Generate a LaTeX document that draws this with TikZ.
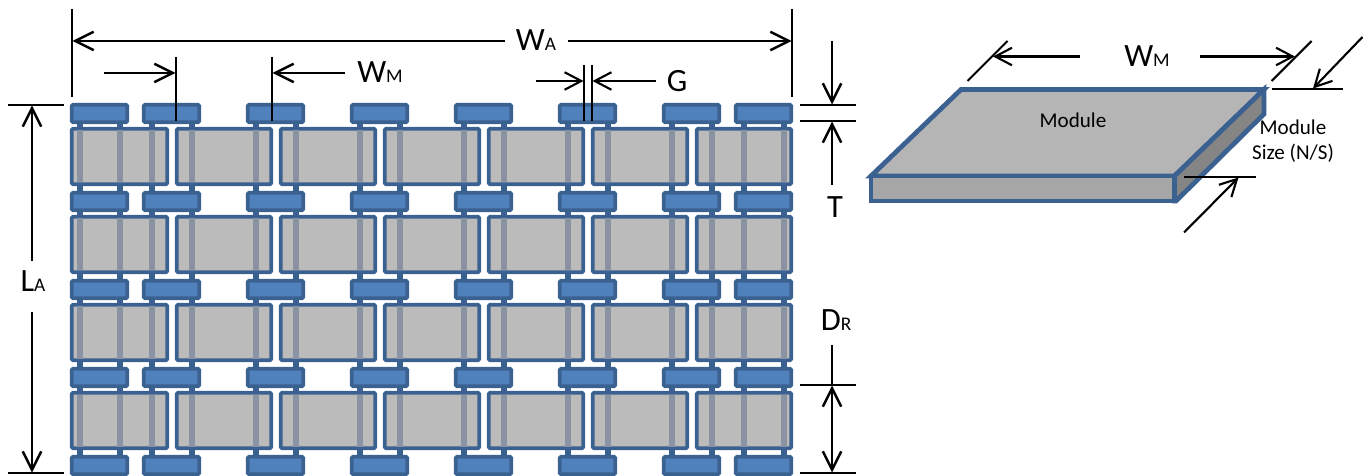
\documentclass[tikz,border=0pt]{standalone}
\usepackage{fontspec}
\setmainfont{Carlito}
\usetikzlibrary{arrows.meta}

\definecolor{padfill}{HTML}{4F81BD}
\definecolor{padline}{HTML}{3B6190}
\definecolor{modfill}{HTML}{BBBBBB}
\definecolor{ribgray}{HTML}{8B93A3}

\newcommand{\bigsmall}[2]{{\fontsize{18.5}{20}\selectfont #1\fontsize{11}{20}\selectfont #2}}

\tikzset{
  padbox/.style={draw=padline, fill=padfill, line width=2.1pt, rounded corners=0.8pt},
  modbox/.style={draw=padline, fill=modfill, line width=2.1pt, rounded corners=0.8pt},
  slab/.style={draw=padline, line width=2.7pt, line join=miter},
  rib/.style={line width=3.5pt},
  dim/.style={line width=1.4pt, black},
  dimarrow/.style={dim, -{Straight Barb[length=10.5pt, width=10.5pt, line width=1.4pt]}},
  thindim/.style={line width=1.2pt, black},
  thinarrow/.style={thindim, -{Straight Barb[length=9.5pt, width=10pt, line width=1.2pt]}},
  dimlabel/.style={inner sep=0pt, text=black},
  boxlabel/.style={inner sep=0pt, text=black, font=\fontsize{12}{14.2}\selectfont, align=center}
}

\begin{document}
\begin{tikzpicture}[x=0.02cm, y=-0.02cm]
       \useasboundingbox (0, 0) rectangle (1363, 476);

      % ribs between the pad rows
       \foreach \padx in {70, 142, 246, 350, 454, 558, 662, 734} {
         \draw [rib, padline] (\padx + 10, 110) -- (\padx + 10, 470);
         \draw [rib, padline] (\padx + 50, 110) -- (\padx + 50, 470);
       }

      % pads
       \foreach \rowy in {103, 191, 279, 367, 455} {
         \foreach \padx in {70, 142, 246, 350, 454, 558, 662, 734} {
           \draw [padbox] (\padx + 1.7, \rowy + 1.7) rectangle (\padx + 57.3, \rowy + 19.3);
         }
       }

      % modules, with the ribs showing through
       \foreach \rowy in {127, 215, 303, 391} {
         \foreach \modx/\modw in {70/99, 175/98, 279/98, 383/98, 487/98, 591/98, 695/98} {
           \draw [modbox] (\modx + 1.7, \rowy + 1.7) rectangle (\modx + \modw - 1.7, \rowy + 57.3);
         }
         \foreach \padx in {70, 142, 246, 350, 454, 558, 662, 734} {
           \draw [rib, ribgray] (\padx + 10, \rowy + 3.5) -- (\padx + 10, \rowy + 55.5);
           \draw [rib, ribgray] (\padx + 50, \rowy + 3.5) -- (\padx + 50, \rowy + 55.5);
         }
       }

      % array width
       \draw [dim] (72, 9) -- (72, 97);
       \draw [dim] (792, 9) -- (792, 97);
       \draw [dimarrow] (505, 41) -- (72.5, 41);
       \draw [dimarrow] (568, 41) -- (791.5, 41);
       \node[dimlabel] (arraywidth) at (536, 40) {\bigsmall{W}{A}};

      % module width
       \draw [dim] (176, 57) -- (176, 121);
       \draw [dim] (272, 57) -- (272, 121);
       \draw [dimarrow] (104, 73) -- (175.5, 73);
       \draw [dimarrow] (345, 73) -- (272.5, 73);
       \node[dimlabel] (modwidth) at (380, 72) {\bigsmall{W}{M}};

      % gap
       \draw [thindim] (584, 65) -- (584, 121);
       \draw [thindim] (592, 65) -- (592, 121);
       \draw [thinarrow] (536, 81) -- (583.5, 81);
       \draw [thinarrow] (656, 81) -- (592.5, 81);
       \node[dimlabel] (gap) at (677, 81) {\bigsmall{G}{}};

      % thickness
       \draw [dim] (800, 105) -- (856, 105);
       \draw [dim] (800, 121) -- (856, 121);
       \draw [dimarrow] (832, 41) -- (832, 104.5);
       \draw [dimarrow] (832, 185) -- (832, 121.5);
       \node[dimlabel] (thick) at (835, 207) {\bigsmall{T}{}};

      % array length
       \draw [dim] (8, 105) -- (64, 105);
       \draw [dim] (8, 473) -- (64, 473);
       \draw [dimarrow] (32, 261) -- (32, 105.5);
       \draw [dimarrow] (32, 312) -- (32, 472.5);
       \node[dimlabel] (arraylength) at (33, 281) {\bigsmall{L}{A}};

      % row distance
       \draw [dim] (800, 385) -- (856, 385);
       \draw [dim] (800, 473) -- (856, 473);
       \draw [dim] (832, 345) -- (832, 385);
       \draw [dim, {Straight Barb[length=10.5pt, width=10.5pt, line width=1.4pt]}-{Straight Barb[length=10.5pt, width=10.5pt, line width=1.4pt]}] (832, 385.5) -- (832, 472.5);
       \node[dimlabel] (rowdist) at (836, 320) {\bigsmall{D}{R}};

      % single module
       \draw [slab, fill=black!29] (961, 89.5) -- (1264, 89.5) -- (1174.5, 176) -- (871, 176) -- cycle;
       \draw [slab, fill=black!35] (871, 176) -- (1174.5, 176) -- (1174.5, 201) -- (871, 201) -- cycle;
       \draw [slab, fill=black!48] (1264, 89.5) -- (1264, 114) -- (1176, 201) -- (1174.5, 201) -- (1174.5, 176) -- cycle;
       \node[boxlabel] (modtop) at (1073, 120) {Module};
       \node[boxlabel] (modsize) at (1293, 141.5) {Module\\Size (N/S)};

      % single module width
       \draw [thindim] (967.5, 81) -- (1007.5, 41);
       \draw [thindim] (1271.5, 81) -- (1311.5, 41);
       \draw [thinarrow] (1080, 56.5) -- (993, 56.5);
       \draw [thinarrow] (1200, 56.5) -- (1295, 56.5);
       \node[dimlabel] (topwidth) at (1147, 56) {\bigsmall{W}{M}};

      % single module size
       \draw [thindim] (1272, 89) -- (1343, 89);
       \draw [thindim] (1184, 177) -- (1256, 177);
       \draw [thinarrow] (1362.5, 37) -- (1313, 88.5);
       \draw [thinarrow] (1184, 232.5) -- (1238.5, 177.5);
\end{tikzpicture}
\end{document}
